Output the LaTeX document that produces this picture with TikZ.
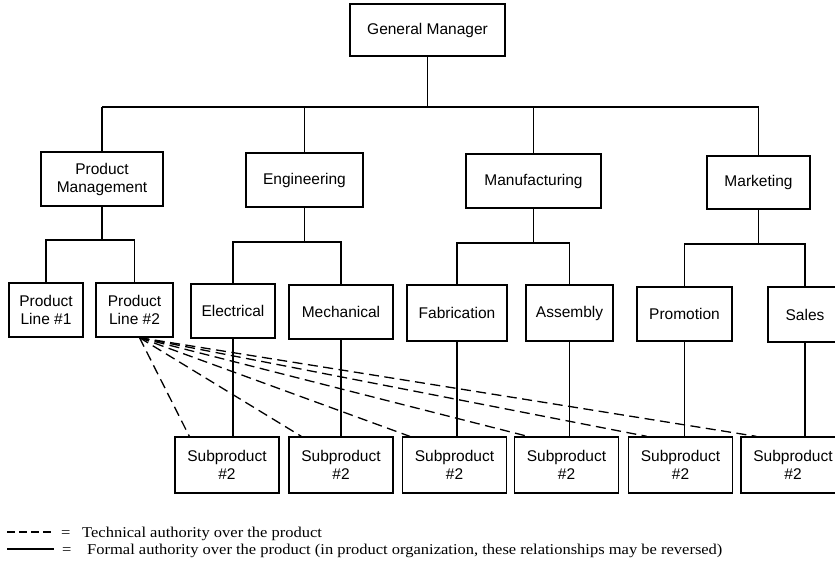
\documentclass[tikz,border=0pt]{standalone}
\usepackage{fontspec}
\usetikzlibrary{calc}
\newfontfamily\boxfont{Liberation Sans}
\newfontfamily\legendfont[FakeStretch=1.1]{Liberation Serif}
\begin{document}
\begin{tikzpicture}[x=1pt,y=-1pt,
  unit/.style={draw, line width=1.3pt, inner sep=0pt, align=center,
    font=\boxfont\fontsize{15.5}{18}\selectfont},
  link/.style={line width=1.3pt},
  techlink/.style={line width=1.3pt, dash pattern=on 10pt off 5.5pt},
  legendtext/.style={anchor=base west, inner sep=0pt,
    font=\legendfont\fontsize{15}{17}\selectfont}]
\useasboundingbox (0,0) rectangle (835,565);
\clip (0,0) rectangle (835,565);

% top level
\node[unit, minimum width=155pt, minimum height=52pt] (gm) at (427.5,30) {General Manager};

% departments
\node[unit, minimum width=122pt, minimum height=54pt] (pm)  at (102,179)   {Product\\Management};
\node[unit, minimum width=117pt, minimum height=54pt] (eng) at (304.5,180) {Engineering};
\node[unit, minimum width=135pt, minimum height=54pt] (mfg) at (533.5,181) {Manufacturing};
\node[unit, minimum width=103pt, minimum height=53pt] (mkt) at (758.5,182.5) {Marketing};

% sections
\node[unit, minimum width=74pt,  minimum height=54pt] (pl1)   at (46,310)    {Product\\Line \#1};
\node[unit, minimum width=77pt,  minimum height=54pt] (pl2)   at (134.5,310) {Product\\Line \#2};
\node[unit, minimum width=84pt,  minimum height=54pt] (elec)  at (233,311)   {Electrical};
\node[unit, minimum width=104pt, minimum height=54pt] (mech)  at (341,312)   {Mechanical};
\node[unit, minimum width=100pt, minimum height=56pt] (fab)   at (457,313)   {Fabrication};
\node[unit, minimum width=87pt,  minimum height=56pt] (asm)   at (569.5,313) {Assembly};
\node[unit, minimum width=95pt,  minimum height=54pt] (prom)  at (684.5,314) {Promotion};
\node[unit, minimum width=74pt,  minimum height=55pt] (sales) at (805,314.5) {Sales};

% subproducts
\foreach \n/\x in {s1/227, s2/341, s3/454.5, s4/566.5, s5/680.5, s6/793}
  \node[unit, minimum width=104pt, minimum height=56pt] (\n) at (\x,465) {Subproduct\\\#2};

% formal authority: reporting lines
\coordinate (topbus) at (0,107);
\draw[link] (gm.south) -- (gm.south |- topbus);
\draw[link] (pm.north |- topbus) -- (mkt.north |- topbus);
\foreach \d in {pm, eng, mfg, mkt}
  \draw[link] (\d.north) -- (\d.north |- topbus);

\coordinate (pmbus) at (0,240);
\draw[link] (pm.south) -- (pm.south |- pmbus);
\draw[link] (pl1.north) -- (pl1.north |- pmbus) -- (pl2.north |- pmbus) -- (pl2.north);

\coordinate (engbus) at (0,242);
\draw[link] (eng.south) -- (eng.south |- engbus);
\draw[link] (elec.north) -- (elec.north |- engbus) -- (mech.north |- engbus) -- (mech.north);

\coordinate (mfgbus) at (0,243);
\draw[link] (mfg.south) -- (mfg.south |- mfgbus);
\draw[link] (fab.north) -- (fab.north |- mfgbus) -- (asm.north |- mfgbus) -- (asm.north);

\coordinate (mktbus) at (0,244);
\draw[link] (mkt.south) -- (mkt.south |- mktbus);
\draw[link] (prom.north) -- (prom.north |- mktbus) -- (sales.north |- mktbus) -- (sales.north);

\foreach \u/\s in {elec/s1, mech/s2, fab/s3, asm/s4, prom/s5, sales/s6}
  \draw[link] (\u.south) -- (\u.south |- \s.north);

% technical authority from product line 2
\coordinate (src) at ($(pl2.south)+(5,0)$);
\foreach \s/\dx in {s1/15, s2/13, s3/8, s4/14, s5/19, s6/16}
  \draw[techlink] (src) -- ($(\s.north west)+(\dx,0)$);

% legend
\coordinate (ta) at (7,532);  \coordinate (tb) at (52,532);
\coordinate (fa) at (7,549);  \coordinate (fb) at (54,549);
\draw[line width=1.3pt, dash pattern=on 8pt off 4pt] (ta) -- (tb);
\draw[line width=1.3pt] (fa) -- (fb);
\node[legendtext] (teq) at (61,537) {=};
\node[legendtext] (ttx) at (82,537) {Technical authority over the product};
\node[legendtext] (feq) at (62,554) {=};
\node[legendtext] (ftx) at (87,554) {Formal authority over the product (in product organization, these relationships may be reversed)};
\end{tikzpicture}
\end{document}
